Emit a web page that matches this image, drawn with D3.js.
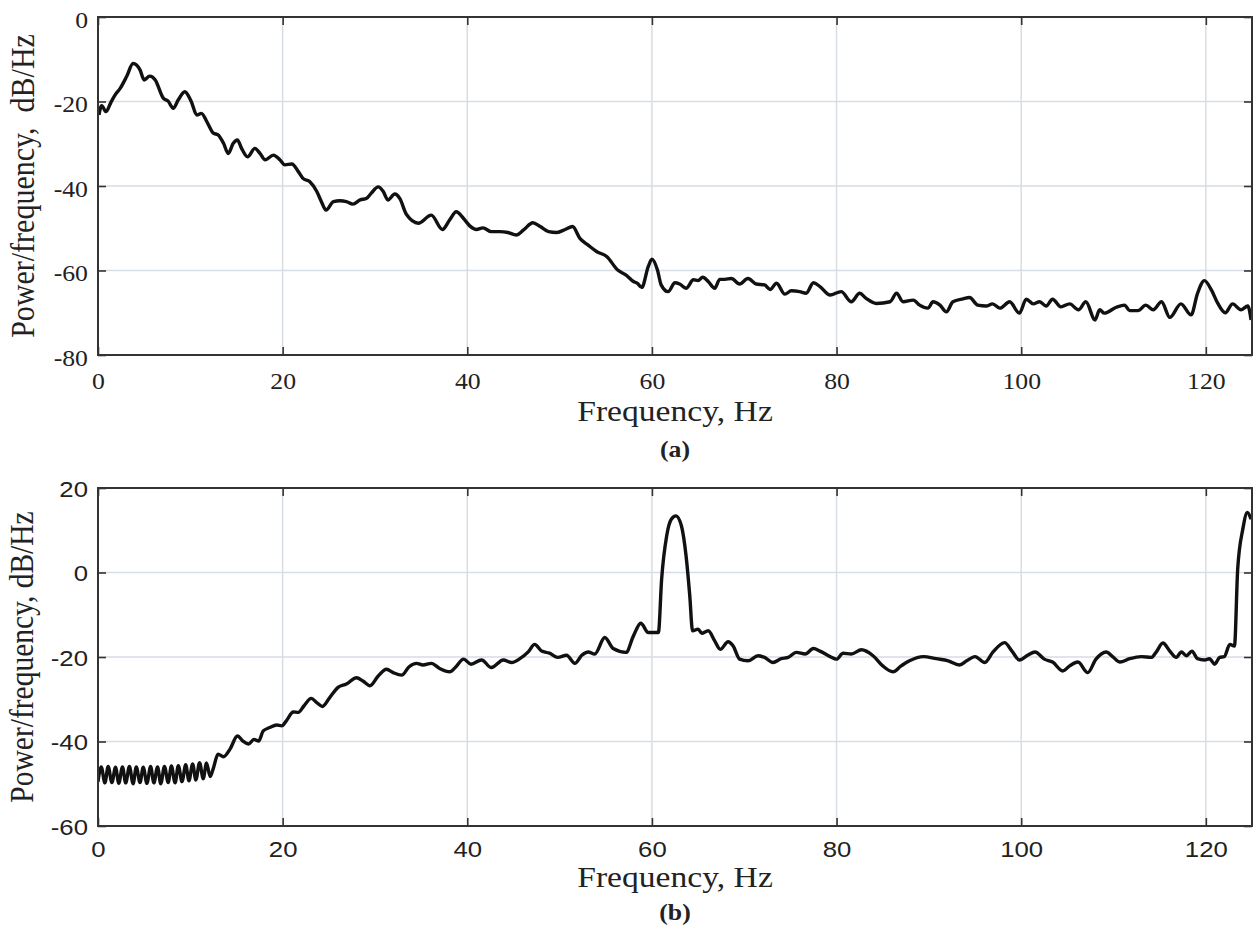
<!DOCTYPE html>
<html>
<head>
<meta charset="utf-8">
<script src="https://cdn.jsdelivr.net/npm/d3@7"></script>
<style>
  body { margin: 0; background: #fff; }
  svg { display: block; }
</style>
</head>
<body>
<svg id="chart" width="1255" height="942"></svg>
<script>
// panel (a) - PSD before
var freqA = [0.1, 0.4, 0.87, 1.4, 1.84, 2.4, 3.1, 3.8, 4.55, 5.0, 5.6, 6.2, 7.07, 7.6, 8.15, 8.7, 9.4, 10.1, 10.7, 11.2,
  11.8, 12.5, 13.0, 13.6, 14.1, 14.65, 15.1, 15.55, 16.2, 17.0, 17.55, 18.1, 19.0, 19.7, 20.25, 21.0, 21.7, 22.2, 22.95, 23.7,
  24.2, 24.7, 25.5, 26.2, 26.9, 27.6, 28.4, 29.1, 29.6, 30.35, 30.9, 31.4, 32.15, 32.7, 33.4, 34.7, 36.1, 37.3, 38.1, 38.8,
  39.6, 40.3, 41.0, 41.7, 42.6, 43.5, 44.4, 45.3, 46.1, 47.1, 47.9, 48.8, 49.7, 50.6, 51.4, 52.2, 53.1, 54.0, 55.1, 56.3,
  57.2, 58.0, 58.4, 58.9, 59.6, 60.0, 60.6, 61.0, 61.75, 62.5, 63.0, 63.7, 64.5, 65.0, 65.5, 66.1, 66.8, 67.35, 67.9, 68.6,
  69.5, 70.4, 71.3, 72.2, 72.8, 73.5, 74.4, 75.1, 76.0, 76.7, 77.5, 78.2, 79.3, 80.5, 81.6, 82.5, 83.2, 84.3, 85.8, 86.5,
  87.2, 88.3, 89.0, 89.9, 90.45, 91.2, 91.9, 92.6, 93.7, 94.4, 95.3, 96.2, 96.9, 97.7, 98.75, 99.8, 100.55, 101.3, 102.0, 102.7,
  103.4, 104.3, 105.25, 106.2, 107.0, 108.0, 108.5, 109.0, 110.3, 111.2, 111.75, 112.65, 113.5, 114.3, 115.2, 116.1, 117.3, 118.4, 119.1, 119.85,
  120.6, 121.3, 122.1, 122.9, 123.8, 124.55, 124.9];
var powerA = [-23.2, -21.0, -22.4, -20.2, -18.5, -16.9, -14.1, -11.0, -12.5, -14.9, -14.0, -14.9, -19.2, -19.9, -21.6, -19.6, -17.7, -20.0, -23.2, -22.8,
  -24.8, -27.5, -27.9, -29.9, -32.3, -29.9, -29.1, -31.1, -33.1, -31.1, -32.3, -33.8, -32.7, -33.8, -35.0, -34.8, -36.6, -38.2, -39.0, -41.3,
  -43.7, -45.7, -43.7, -43.5, -43.7, -44.3, -43.3, -42.9, -41.7, -40.2, -41.3, -43.3, -41.9, -43.0, -46.7, -48.8, -46.9, -50.3, -48.0, -46.1,
  -47.7, -49.5, -50.3, -49.9, -50.8, -50.8, -51.0, -51.6, -50.4, -48.7, -49.6, -50.8, -51.0, -50.3, -49.6, -52.4, -54.0, -55.5, -56.7, -59.9,
  -61.1, -62.6, -63.0, -64.0, -59.1, -57.3, -59.9, -63.4, -65.0, -62.9, -63.2, -64.2, -62.2, -62.4, -61.6, -62.6, -64.2, -62.1, -62.1, -61.9,
  -63.2, -61.9, -63.2, -63.4, -64.5, -63.0, -65.6, -64.8, -65.0, -65.4, -62.9, -63.8, -65.8, -65.0, -67.4, -65.4, -66.6, -67.8, -67.4, -65.4,
  -67.4, -67.0, -68.2, -68.9, -67.4, -68.2, -69.8, -67.4, -66.7, -66.4, -68.2, -68.4, -67.9, -68.9, -67.4, -70.1, -66.8, -67.9, -67.4, -68.4,
  -66.8, -68.6, -67.9, -69.3, -67.4, -71.7, -69.3, -70.1, -68.7, -68.2, -69.5, -69.5, -68.2, -69.3, -67.4, -71.1, -67.9, -70.5, -65.4, -62.4,
  -64.6, -67.8, -70.0, -67.9, -69.3, -68.4, -71.7];

// panel (b) - PSD after
var freqB = [0, 0.35, 0.75, 1.1, 1.5, 1.9, 2.25, 2.65, 3.0, 3.4, 3.8, 4.15, 4.55, 4.9, 5.3, 5.7, 6.05, 6.45, 6.8, 7.2,
  7.6, 7.95, 8.35, 8.7, 9.1, 9.5, 9.85, 10.25, 10.6, 11.0, 11.4, 11.75, 12.15, 12.5, 13.0, 13.6, 14.3, 15.1, 15.7, 16.3,
  16.9, 17.4, 17.9, 18.6, 19.35, 19.9, 20.4, 21.15, 21.7, 22.3, 23.1, 23.7, 24.3, 25.1, 26.0, 26.9, 28.0, 28.7, 29.45, 30.35,
  31.25, 31.97, 32.9, 33.7, 34.5, 35.2, 36.1, 37.0, 38.1, 38.7, 39.6, 40.4, 41.55, 42.6, 43.9, 44.8, 45.7, 46.6, 47.3, 48.05,
  48.9, 49.8, 50.75, 51.65, 52.4, 53.1, 53.8, 54.9, 55.8, 57.2, 58.0, 58.8, 59.6, 60.7, 61.05, 61.6, 62.1, 62.6, 63.2, 63.7,
  64.1, 64.4, 65.0, 65.4, 66.1, 66.8, 67.4, 68.25, 68.8, 69.5, 70.4, 71.5, 72.2, 73.1, 74.0, 74.75, 75.65, 76.6, 77.5, 78.2,
  79.3, 80.0, 80.7, 81.6, 82.7, 83.95, 85.0, 86.1, 87.0, 87.9, 89.4, 90.8, 92.1, 93.3, 94.1, 95.0, 96.05, 96.95, 98.2, 99.0,
  99.8, 100.7, 101.5, 102.5, 103.4, 104.5, 105.25, 106.15, 107.2, 108.1, 109.2, 109.9, 110.7, 111.75, 113.0, 114.1, 114.6, 115.35, 116.1, 116.8,
  117.35, 117.9, 118.5, 119.1, 119.85, 120.4, 120.95, 121.5, 122.0, 122.6, 123.1, 123.45, 124.0, 124.5, 124.9];
var powerB = [-49.5, -46.0, -49.8, -45.9, -49.7, -46.1, -49.9, -46.0, -49.8, -45.9, -50.0, -46.0, -49.7, -46.1, -49.9, -45.9, -49.8, -46.0, -50.0, -45.9,
  -49.7, -45.8, -49.8, -45.7, -49.5, -45.5, -49.3, -45.3, -49.1, -45.0, -48.8, -45.1, -48.3, -46.3, -43.0, -43.6, -41.8, -38.7, -39.9, -40.6,
  -39.5, -39.9, -37.5, -36.7, -36.1, -36.3, -35.1, -33.0, -33.1, -31.6, -29.8, -30.8, -31.7, -29.6, -27.2, -26.4, -24.9, -25.7, -26.8, -24.5,
  -22.9, -23.7, -24.3, -22.3, -21.5, -21.9, -21.5, -22.7, -23.5, -22.5, -20.5, -21.7, -20.7, -22.5, -20.7, -21.3, -20.4, -18.8, -17.0, -18.6,
  -19.1, -20.1, -19.6, -21.5, -19.6, -18.8, -19.3, -15.4, -18.0, -18.9, -15.0, -12.0, -14.2, -14.2, -1.6, 8.7, 12.6, 13.4, 11.0, 3.9,
  -5.5, -13.8, -13.4, -14.4, -13.8, -16.2, -18.2, -16.4, -17.4, -20.5, -20.9, -19.7, -20.1, -21.3, -20.4, -20.1, -18.9, -19.3, -18.0, -18.6,
  -19.9, -20.5, -19.1, -19.3, -18.3, -19.7, -22.1, -23.5, -22.1, -20.9, -19.9, -20.4, -20.9, -21.9, -20.9, -19.9, -21.3, -18.8, -16.6, -18.6,
  -20.7, -19.6, -18.8, -20.5, -21.2, -23.3, -22.1, -21.2, -23.7, -20.5, -18.8, -19.9, -21.2, -20.4, -19.9, -20.1, -18.9, -16.7, -18.6, -20.1,
  -18.8, -19.7, -18.6, -20.4, -20.7, -20.4, -21.7, -20.1, -19.9, -17.0, -17.4, 0.8, 10.2, 14.2, 12.6];

var xTicks = [0, 20, 40, 60, 80, 100, 120];
var yTicksA = [-80, -60, -40, -20, 0];
var yTicksB = [-60, -40, -20, 0, 20];

var svg = d3.select("#chart");
var left = 98, right = 1252;
var serif = "'Liberation Serif', 'Times New Roman', serif";
var sans = "'Liberation Sans', Arial, sans-serif";
var sx = 1.12; // source figure is stretched horizontally
var plain = function(d) { return String(d); }; // hyphen minus like the original

function drawPanel(p) {
  var x = d3.scaleLinear().domain([0, 125]).range([left, right]);
  var y = d3.scaleLinear().domain(p.yDomain).range([p.bottom, p.top]);
  var g = svg.append("g");
  var h = p.bottom - p.top;

  // grid
  g.append("g").selectAll("line").data(xTicks.slice(1)).enter().append("line")
    .attr("x1", function(d) { return x(d); }).attr("x2", function(d) { return x(d); })
    .attr("y1", p.top).attr("y2", p.bottom)
    .attr("stroke", "#d7dde4").attr("stroke-width", 1.5);
  g.append("g").selectAll("line").data(p.yTicks.slice(1, -1)).enter().append("line")
    .attr("x1", left).attr("x2", right)
    .attr("y1", function(d) { return y(d); }).attr("y2", function(d) { return y(d); })
    .attr("stroke", "#d7dde4").attr("stroke-width", 1.5);

  // curve
  var clipId = "clip" + p.name;
  svg.append("clipPath").attr("id", clipId).append("rect")
    .attr("x", left).attr("y", p.top).attr("width", right - left).attr("height", h);
  var line = d3.line()
    .x(function(d) { return x(d[0]); })
    .y(function(d) { return y(d[1]); })
    .curve(d3.curveMonotoneX);
  g.append("path")
    .datum(d3.zip(p.freq, p.power))
    .attr("clip-path", "url(#" + clipId + ")")
    .attr("d", line)
    .attr("fill", "none")
    .attr("stroke", "#111")
    .attr("stroke-width", 3.4)
    .attr("stroke-linejoin", "round");

  // box ticks pointing inward
  var axB = g.append("g").attr("transform", "translate(0," + p.bottom + ")")
    .call(d3.axisBottom(x).tickValues(xTicks).tickSize(-8).tickFormat(plain));
  var axT = g.append("g").attr("transform", "translate(0," + p.top + ")")
    .call(d3.axisTop(x).tickValues(xTicks).tickSize(-8).tickFormat(""));
  var axL = g.append("g").attr("transform", "translate(" + left + ",0)")
    .call(d3.axisLeft(y).tickValues(p.yTicks).tickSize(-8).tickFormat(plain));
  var axR = g.append("g").attr("transform", "translate(" + right + ",0)")
    .call(d3.axisRight(y).tickValues(p.yTicks).tickSize(-8).tickFormat(""));
  [axB, axT, axL, axR].forEach(function(a) {
    a.select(".domain").remove();
    a.selectAll(".tick line").attr("stroke", "#333").attr("stroke-width", 1.6);
  });
  axB.selectAll(".tick text")
    .attr("font-family", p.tickFont).attr("font-size", p.tickSize).attr("fill", "#222")
    .attr("y", 0).attr("dy", 0)
    .attr("transform", "translate(0," + (p.xTickBase - p.bottom) + ") scale(" + sx + ",1)");
  axL.selectAll(".tick text")
    .attr("font-family", p.tickFont).attr("font-size", p.tickSize).attr("fill", "#222")
    .attr("x", -10 / sx).attr("dy", p.yTickDy)
    .attr("transform", "scale(" + sx + ",1)");

  g.append("rect")
    .attr("x", left).attr("y", p.top).attr("width", right - left).attr("height", h)
    .attr("fill", "none").attr("stroke", "#333").attr("stroke-width", 2);

  // labels
  g.append("text")
    .attr("transform", "translate(" + p.yLabelX + "," + ((p.top + p.bottom) / 2) + ") scale(" + sx + ",1) rotate(-90)")
    .attr("text-anchor", "middle")
    .attr("font-family", serif).attr("font-size", p.yLabelSize).attr("fill", "#222")
    .style("white-space", "pre")
    .text(p.yLabel);
  g.append("text")
    .attr("transform", "translate(" + ((left + right) / 2) + "," + p.xLabelBase + ") scale(" + sx + ",1)")
    .attr("text-anchor", "middle")
    .attr("font-family", serif).attr("font-size", 30).attr("fill", "#222")
    .text("Frequency, Hz");
  g.append("text")
    .attr("transform", "translate(" + ((left + right) / 2) + "," + p.tagBase + ") scale(" + sx + ",1)")
    .attr("text-anchor", "middle")
    .attr("font-family", serif).attr("font-size", 23).attr("font-weight", "bold").attr("fill", "#222")
    .text(p.tag);
}

drawPanel({
  name: "a", freq: freqA, power: powerA, yDomain: [-80, 0], yTicks: yTicksA,
  top: 17, bottom: 355, tickFont: serif, tickSize: 23, xTickBase: 389, yTickDy: "0.45em",
  yLabel: "Power/frequency,  dB/Hz", yLabelX: 34, yLabelSize: 30,
  xLabelBase: 421, tag: "(a)", tagBase: 457
});
drawPanel({
  name: "b", freq: freqB, power: powerB, yDomain: [-60, 20], yTicks: yTicksB,
  top: 488, bottom: 826, tickFont: sans, tickSize: 23, xTickBase: 857, yTickDy: "0.36em",
  yLabel: "Power/frequency, dB/Hz", yLabelX: 33, yLabelSize: 29.5,
  xLabelBase: 887, tag: "(b)", tagBase: 920
});
</script>
</body>
</html>
